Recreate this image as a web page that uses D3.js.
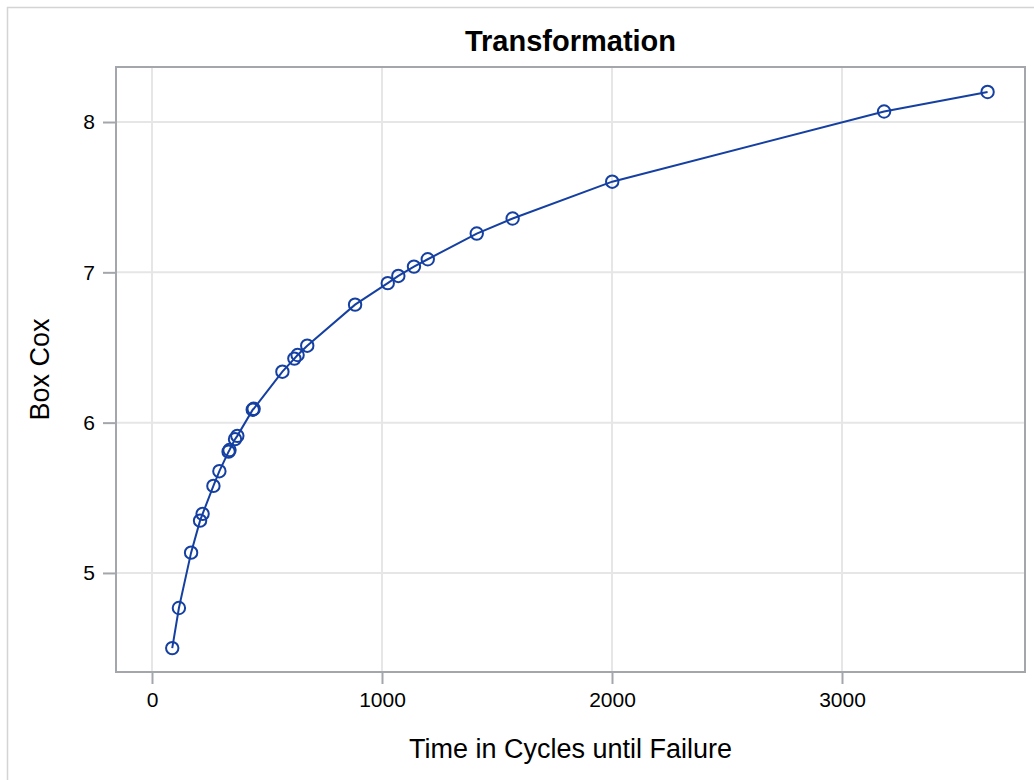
<!DOCTYPE html>
<html>
<head>
<meta charset="utf-8">
<script src="https://cdn.jsdelivr.net/npm/d3@7"></script>
<style>
  html, body { margin: 0; padding: 0; background: #fff; }
  svg { display: block; font-family: "Liberation Sans", Arial, Helvetica, sans-serif; }
</style>
</head>
<body>
<svg id="chart" width="1034" height="780"></svg>
<script>
// ---- data ----
const cycles = [88, 117, 170, 209, 220, 267, 293, 333, 337, 361, 371, 438, 442,
                567, 619, 633, 675, 883, 1025, 1071, 1139, 1199, 1412, 1568, 2001, 3183, 3633];
const boxCox = [4.50, 4.767, 5.135, 5.348, 5.393, 5.579, 5.677, 5.807, 5.818, 5.89, 5.912, 6.086, 6.092,
                6.339, 6.426, 6.45, 6.512, 6.785, 6.928, 6.976, 7.038, 7.087, 7.258, 7.358, 7.603, 8.07, 8.20];
const xTicks = [0, 1000, 2000, 3000];
const yTicks = [5, 6, 7, 8];
const titleText = "Transformation";
const xLabel = "Time in Cycles until Failure";
const yLabel = "Box Cox";

const points = cycles.map((c, i) => ({ x: c, y: boxCox[i] }));

const svg = d3.select("#chart");
const W = 1034, H = 780;
const plot = { left: 116, right: 1025, top: 67, bottom: 672 };
const blue = "#1540a2";
const frameCol = "#a3a6ab";
const gridCol = "#e6e6e6";

// outer border
svg.append("rect").attr("x", 7.5).attr("y", 7.5).attr("width", W + 10).attr("height", H + 10)
  .attr("fill", "none").attr("stroke", "#d4d4d4").attr("stroke-width", 1.5);

const x = d3.scaleLinear().domain([-156.5, 3795.7]).range([plot.left, plot.right]);
const y = d3.scaleLinear().domain([4.341, 8.366]).range([plot.bottom, plot.top]);

// grid
const g = svg.append("g");
g.selectAll("line.gx").data(xTicks).join("line").attr("class", "gx")
  .attr("x1", d => x(d)).attr("x2", d => x(d))
  .attr("y1", plot.top).attr("y2", plot.bottom)
  .attr("stroke", gridCol).attr("stroke-width", 2);
g.selectAll("line.gy").data(yTicks).join("line").attr("class", "gy")
  .attr("y1", d => y(d)).attr("y2", d => y(d))
  .attr("x1", plot.left).attr("x2", plot.right)
  .attr("stroke", gridCol).attr("stroke-width", 2);

// axes
const xAxis = d3.axisBottom(x).tickValues(xTicks).tickFormat(d3.format("d")).tickSizeOuter(0).tickSize(12).tickPadding(8);
const yAxis = d3.axisLeft(y).tickValues(yTicks).tickFormat(d3.format("d")).tickSizeOuter(0).tickSize(13).tickPadding(8);

const gx = svg.append("g").attr("transform", `translate(0,${plot.bottom})`).call(xAxis);
const gy = svg.append("g").attr("transform", `translate(${plot.left},0)`).call(yAxis);
[gx, gy].forEach(a => {
  a.select(".domain").remove();
  a.selectAll(".tick line").attr("stroke", frameCol).attr("stroke-width", 2);
  a.selectAll(".tick text").attr("fill", "#000").style("font-size", "21px")
    .style("font-family", '"Liberation Sans", Arial, sans-serif');
});

// frame
svg.append("rect").attr("x", plot.left).attr("y", plot.top)
  .attr("width", plot.right - plot.left).attr("height", plot.bottom - plot.top)
  .attr("fill", "none").attr("stroke", frameCol).attr("stroke-width", 2);

// series line
const line = d3.line().x(d => x(d.x)).y(d => y(d.y));
svg.append("path").datum(points).attr("d", line)
  .attr("fill", "none").attr("stroke", blue).attr("stroke-width", 2);

// markers
svg.selectAll("circle.pt").data(points).join("circle").attr("class", "pt")
  .attr("cx", d => x(d.x)).attr("cy", d => y(d.y)).attr("r", 6.2)
  .attr("fill", "none").attr("stroke", blue).attr("stroke-width", 2);

// title
svg.append("text").attr("x", (plot.left + plot.right) / 2).attr("y", 51)
  .attr("text-anchor", "middle").style("font-size", "29px").style("font-weight", "bold")
  .text(titleText);

// axis labels
svg.append("text").attr("x", (plot.left + plot.right) / 2).attr("y", 758)
  .attr("text-anchor", "middle").style("font-size", "27px").text(xLabel);
svg.append("text").attr("transform", `translate(49,${(plot.top + plot.bottom) / 2}) rotate(-90)`)
  .attr("text-anchor", "middle").style("font-size", "27px").text(yLabel);
</script>
</body>
</html>
